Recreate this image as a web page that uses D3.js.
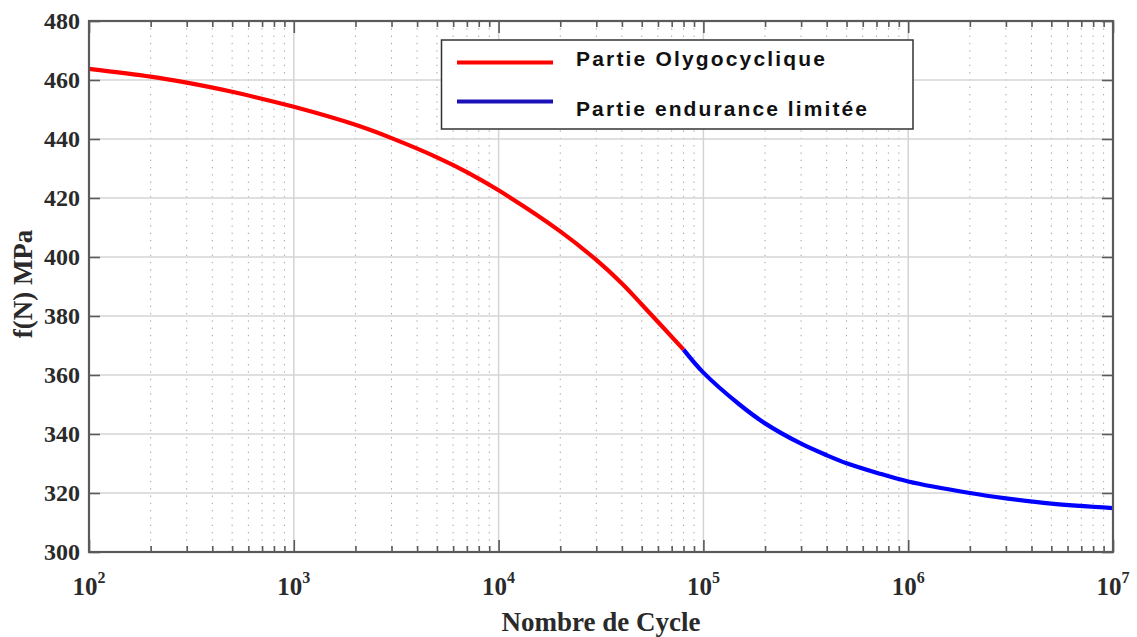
<!DOCTYPE html>
<html>
<head>
<meta charset="utf-8">
<script src="https://cdn.jsdelivr.net/npm/d3@7"></script>
<style>
  html, body { margin: 0; padding: 0; background: #fff; }
  svg { display: block; }
</style>
</head>
<body>
<svg id="chart" width="1137" height="637"></svg>
<script>
// ---- data ----
const redN  = [100, 200, 300, 500, 1000, 2000, 3000, 5000, 7000, 10000, 20000, 30000, 40000, 50000, 80000];
const redV  = [463.8, 461.15, 459.1, 456.0, 450.9, 444.8, 440.3, 433.8, 428.8, 422.6, 408.7, 399.0, 391.0, 383.9, 368.6];
const blueN = [80000, 100000, 150000, 200000, 300000, 400000, 500000, 700000, 1e6, 2e6, 3e6, 5e6, 1e7];
const blueV = [368.6, 360.8, 350.0, 343.6, 336.7, 332.8, 330.1, 326.9, 323.9, 320.0, 318.2, 316.4, 314.9];
const yTicks = [300, 320, 340, 360, 380, 400, 420, 440, 460, 480];
const xDecades = [1e2, 1e3, 1e4, 1e5, 1e6, 1e7];
const xExponents = ["2", "3", "4", "5", "6", "7"];
const legendLabels = ["Partie Olygocyclique", "Partie endurance limitée"];
const seriesColors = ["#ff0000", "#0000ff"];
const xTitle = "Nombre de Cycle";
const yTitle = "f(N) MPa";

// ---- layout ----
const svg = d3.select("#chart");
const L = 89, R = 1113, T = 21, B = 552;
const x = d3.scaleLog().domain([1e2, 1e7]).range([L, R]);
const y = d3.scaleLinear().domain([300, 480]).range([B, T]);

const minorN = [];
xDecades.slice(0, -1).forEach(d => { for (let k = 2; k <= 9; k++) minorN.push(d * k); });

// grid
const grid = svg.append("g");
grid.selectAll("line.minor").data(minorN).join("line")
  .attr("x1", d => x(d)).attr("x2", d => x(d)).attr("y1", T).attr("y2", B)
  .attr("stroke", "#a0a0a0").attr("stroke-width", 1).attr("stroke-dasharray", "1.3,6");
grid.selectAll("line.vmaj").data(xDecades).join("line")
  .attr("x1", d => x(d)).attr("x2", d => x(d)).attr("y1", T).attr("y2", B)
  .attr("stroke", "#d4d4d4").attr("stroke-width", 1.5);
grid.selectAll("line.hmaj").data(yTicks).join("line")
  .attr("x1", L).attr("x2", R).attr("y1", d => y(d)).attr("y2", d => y(d))
  .attr("stroke", "#d4d4d4").attr("stroke-width", 1.5);

// curves
const line = d3.line().x(d => x(d[0])).y(d => y(d[1])).curve(d3.curveCatmullRom.alpha(0.5));
svg.append("path").datum(redN.map((n, i) => [n, redV[i]]))
  .attr("d", line).attr("fill", "none").attr("stroke", seriesColors[0]).attr("stroke-width", 4.2);
svg.append("path").datum(blueN.map((n, i) => [n, blueV[i]]))
  .attr("d", line).attr("fill", "none").attr("stroke", seriesColors[1]).attr("stroke-width", 4.2);

// axes (inward ticks)
const axColor = "#5a5a5a";
function styleAxis(g) {
  g.select(".domain").remove();
  g.selectAll(".tick line").attr("stroke", axColor).attr("stroke-width", 1.6);
  g.selectAll(".tick text").remove();
}
svg.append("g").attr("transform", `translate(0,${B})`)
  .call(d3.axisBottom(x).tickValues(xDecades).tickSize(-12)).call(styleAxis);
svg.append("g").attr("transform", `translate(0,${B})`)
  .call(d3.axisBottom(x).tickValues(minorN).tickSize(-6)).call(styleAxis);
svg.append("g").attr("transform", `translate(0,${T})`)
  .call(d3.axisTop(x).tickValues(xDecades).tickSize(-12)).call(styleAxis);
svg.append("g").attr("transform", `translate(0,${T})`)
  .call(d3.axisTop(x).tickValues(minorN).tickSize(-6)).call(styleAxis);
svg.append("g").attr("transform", `translate(${L},0)`)
  .call(d3.axisLeft(y).tickValues(yTicks).tickSize(-11)).call(styleAxis);
svg.append("g").attr("transform", `translate(${R},0)`)
  .call(d3.axisRight(y).tickValues(yTicks).tickSize(-11)).call(styleAxis);

// frame
svg.append("rect").attr("x", L).attr("y", T).attr("width", R - L).attr("height", B - T)
  .attr("fill", "none").attr("stroke", axColor).attr("stroke-width", 2.2);

// tick labels
const serif = "'Liberation Serif', 'Times New Roman', serif";
svg.append("g").selectAll("text").data(yTicks).join("text")
  .attr("x", 80).attr("y", d => y(d)).attr("dy", "0.34em")
  .attr("text-anchor", "end").attr("font-family", serif).attr("font-weight", "bold")
  .attr("font-size", 24).attr("fill", "#2a2a2a").text(d => d);

const xl = svg.append("g").selectAll("text").data(xDecades).join("text")
  .attr("x", d => x(d)).attr("y", 595).attr("text-anchor", "middle")
  .attr("font-family", serif).attr("font-weight", "bold").attr("font-size", 25).attr("fill", "#2a2a2a");
xl.append("tspan").text("10");
xl.append("tspan").attr("dy", -12).attr("font-size", 16).text((d, i) => xExponents[i]);

// axis titles
svg.append("text").attr("x", (L + R) / 2).attr("y", 631).attr("text-anchor", "middle")
  .attr("font-family", serif).attr("font-weight", "bold").attr("font-size", 27).attr("fill", "#2a2a2a")
  .text(xTitle);
svg.append("text").attr("transform", `translate(32,${284}) rotate(-90)`).attr("text-anchor", "middle")
  .attr("font-family", serif).attr("font-weight", "bold").attr("font-size", 27).attr("fill", "#2a2a2a")
  .text(yTitle);

// legend
const lg = svg.append("g");
lg.append("rect").attr("x", 441.5).attr("y", 40).attr("width", 471.5).attr("height", 89)
  .attr("fill", "#fff").attr("stroke", "#333").attr("stroke-width", 1.5);
const legY = [62.5, 101.5], textY = [66, 115.5];
const legW = [249, 291];
legendLabels.forEach((lab, i) => {
  lg.append("line").attr("x1", 457).attr("x2", 553).attr("y1", legY[i]).attr("y2", legY[i])
    .attr("stroke", i === 0 ? seriesColors[0] : "#1a12b8").attr("stroke-width", 4);
  lg.append("text").attr("x", 576).attr("y", textY[i])
    .attr("font-family", "'Liberation Sans', Arial, sans-serif").attr("font-weight", "bold")
    .attr("font-size", 21).attr("fill", "#111")
    .attr("textLength", legW[i]).attr("lengthAdjust", "spacing").text(lab);
});
</script>
</body>
</html>
